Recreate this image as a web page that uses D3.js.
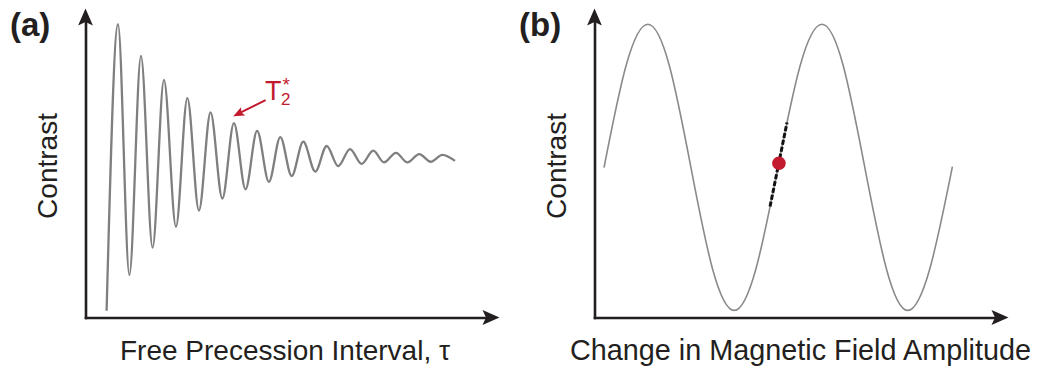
<!DOCTYPE html>
<html>
<head>
<meta charset="utf-8">
<script src="https://cdn.jsdelivr.net/npm/d3@7"></script>
<style>
  body { margin: 0; background: #fff; }
  svg { display: block; }
  text { font-family: "Liberation Sans", Arial, Helvetica, sans-serif; fill: #231f20; }
</style>
</head>
<body>
<svg id="chart" width="1039" height="370"></svg>
<script>
// (a) Free-precession decay: extrema of the damped oscillation (tau, contrast), arbitrary units 0-100
const decayTau = [5.1, 7.85, 10.6, 13.4, 16.2, 18.95, 21.85, 24.6, 27.4, 30.2, 33.05, 35.85, 38.65, 41.45, 44.3,
                  47.05, 49.8, 52.6, 55.5, 58.25, 61.05, 63.9, 66.7, 69.5, 72.1, 75.0, 77.75, 80.6, 83.4, 86.2, 89.25];
const decayContrast = [2.2, 94.9, 13.8, 84.7, 22.6, 76.9, 29.4, 71.0, 34.6, 66.4, 38.5, 62.9, 41.5, 60.4, 43.9,
                       58.4, 45.8, 56.9, 47.2, 55.5, 49.0, 54.5, 49.7, 54.0, 50.2, 53.3, 50.2, 52.9, 50.4, 52.6, 50.7];
// index of the fringe the T2* arrow points at
const markedFringe = 11;

// (b) Contrast versus change in magnetic field amplitude
const fieldAmp = [2.3, 7.6, 12.9, 18.1, 23.3, 28.5, 33.75, 39.0, 44.3, 49.65, 54.95, 60.1, 65.3, 70.5, 75.65, 81.0, 86.45];
const fieldContrast = [48.5, 81.4, 94.9, 81.4, 48.5, 15.8, 2.3, 15.8, 48.5, 81.4, 94.9, 81.4, 48.5, 15.8, 2.3, 15.8, 48.8];
// operating point on the steepest slope and its tangent segment
const workAmp = 44.55, workContrast = 49.9;
const slopeAmp = [42.4, 46.5];
const slopeContrast = [35.9, 63.1];

// text
const panelLabels = ["(a)", "(b)"];
const xTitles = ["Free Precession Interval, \u03C4", "Change in Magnetic Field Amplitude"];
const xTitleSizes = [28, 28.8];
const yTitle = "Contrast";
const t2Main = "T", t2Sub = "2", t2Sup = "*";

const svg = d3.select("#chart");
const ink = "#231f20";
const red = "#c41a2f";

// filled, slightly notched arrowhead pointing along angle `ang`
function arrowHead(g, tx, ty, ang, len, hw, notch, fill) {
  const c = Math.cos(ang), s = Math.sin(ang);
  const pt = (a, b) => [tx + a * c - b * s, ty + a * s + b * c];
  const p = d3.path();
  p.moveTo(...pt(0, 0));
  p.lineTo(...pt(-len, hw));
  p.lineTo(...pt(-len + notch, 0));
  p.lineTo(...pt(-len, -hw));
  p.closePath();
  g.append("path").attr("d", p.toString()).attr("fill", fill);
}

function panel(x0, x1, idx) {
  const yBottom = 317.5, yTop = 8.5;
  const x = d3.scaleLinear().domain([0, 100]).range([x0, x1]);
  const y = d3.scaleLinear().domain([0, 100]).range([yBottom, yTop]);
  const g = svg.append("g");

  // axis lines (no ticks), ending under the arrowheads
  const xAxisScale = x.copy().range([x0 - 1.3, x1 - 10]);
  const yAxisScale = y.copy().range([yBottom + 1.3, yTop + 10]);
  const ax = g.append("g").attr("transform", `translate(0,${yBottom})`)
    .call(d3.axisBottom(xAxisScale).tickValues([]).tickSizeOuter(0));
  const ay = g.append("g").attr("transform", `translate(${x0},0)`)
    .call(d3.axisLeft(yAxisScale).tickValues([]).tickSizeOuter(0));
  [ax, ay].forEach(a => a.select(".domain").attr("stroke", ink).attr("stroke-width", 2.6));
  arrowHead(g, x1, yBottom, 0, 17, 7.4, 3.5, ink);
  arrowHead(g, x0, yTop, -Math.PI / 2, 17, 7.4, 3.5, ink);

  // titles
  g.append("text").attr("x", idx === 0 ? 10 : 519).attr("y", 36)
    .attr("font-size", 33).attr("font-weight", "bold").text(panelLabels[idx]);
  g.append("text")
    .attr("transform", `translate(${x0 - 28.5},166) rotate(-90)`)
    .attr("text-anchor", "middle").attr("font-size", 28).text(yTitle);
  g.append("text").attr("x", idx === 0 ? 285 : 800.5).attr("y", 360)
    .attr("text-anchor", "middle").attr("font-size", xTitleSizes[idx]).text(xTitles[idx]);

  return { g, x, y };
}

// ---- panel (a)
{
  const { g, x, y } = panel(85.5, 499.5, 0);
  const pts = decayTau.map((t, i) => [t, decayContrast[i]]);
  const line = d3.line().x(d => x(d[0])).y(d => y(d[1])).curve(d3.curveMonotoneX);
  g.append("path").attr("d", line(pts)).attr("fill", "none")
    .attr("stroke", "#7f7f7f").attr("stroke-width", 2.3).attr("stroke-linejoin", "round");

  // T2* annotation arrow aimed at a decaying fringe
  const tipX = x(decayTau[markedFringe]) - 0.7;
  const tipY = y(decayContrast[markedFringe]) - 7;
  const tailX = tipX + 32.4, tailY = tipY - 16;
  const ang = Math.atan2(tipY - tailY, tipX - tailX);
  g.append("line").attr("x1", tailX).attr("y1", tailY)
    .attr("x2", tipX - 8 * Math.cos(ang)).attr("y2", tipY - 8 * Math.sin(ang))
    .attr("stroke", red).attr("stroke-width", 2);
  arrowHead(g, tipX, tipY, ang, 11, 4.6, 2, red);

  // T with subscript 2 and superscript * stacked after it
  const lab = g.append("text").attr("x", tailX - 0.5).attr("y", tailY - 0.5)
    .attr("font-size", 27).style("fill", red);
  lab.append("tspan").text(t2Main);
  lab.append("tspan").attr("dx", -0.5).attr("dy", 5.5).attr("font-size", 17).style("fill", red).text(t2Sub);
  lab.append("tspan").attr("dx", -8).attr("dy", -14).attr("font-size", 19).style("fill", red).text(t2Sup);
}

// ---- panel (b)
{
  const { g, x, y } = panel(594.5, 1008.5, 1);
  const pts = fieldAmp.map((a, i) => [a, fieldContrast[i]]);
  const line = d3.line().x(d => x(d[0])).y(d => y(d[1])).curve(d3.curveNatural);
  g.append("path").attr("d", line(pts)).attr("fill", "none")
    .attr("stroke", "#8a8a8a").attr("stroke-width", 1.6);

  g.append("line")
    .attr("x1", x(slopeAmp[0])).attr("y1", y(slopeContrast[0]))
    .attr("x2", x(slopeAmp[1])).attr("y2", y(slopeContrast[1]))
    .attr("stroke", "#111").attr("stroke-width", 3).attr("stroke-dasharray", "5,2");

  g.append("circle").attr("cx", x(workAmp)).attr("cy", y(workContrast))
    .attr("r", 6.8).attr("fill", red);
}
</script>
</body>
</html>
